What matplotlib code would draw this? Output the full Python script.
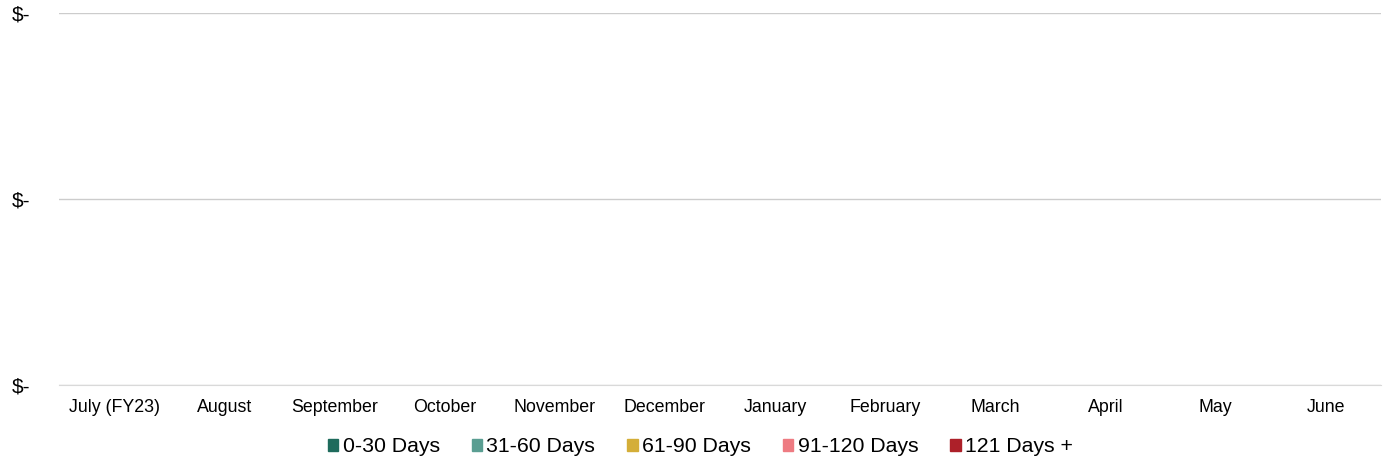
import matplotlib as mpl
import matplotlib.pyplot as plt
import numpy as np

mpl.use('Agg')

plt.rcParams['font.family'] = ['Liberation Sans', 'DejaVu Sans']

months = ['July (FY23)', 'August', 'September', 'October', 'November', 'December',
          'January', 'February', 'March', 'April', 'May', 'June']
buckets = ['0-30 Days', '31-60 Days', '61-90 Days', '91-120 Days', '121 Days +']
colors = ['#1e6b5c', '#5a9e92', '#d4ae38', '#ee7b82', '#ad2029']

days_0_30 = [0, 0, 0, 0, 0, 0, 0, 0, 0, 0, 0, 0]
days_31_60 = [0, 0, 0, 0, 0, 0, 0, 0, 0, 0, 0, 0]
days_61_90 = [0, 0, 0, 0, 0, 0, 0, 0, 0, 0, 0, 0]
days_91_120 = [0, 0, 0, 0, 0, 0, 0, 0, 0, 0, 0, 0]
days_121_plus = [0, 0, 0, 0, 0, 0, 0, 0, 0, 0, 0, 0]
series = [days_0_30, days_31_60, days_61_90, days_91_120, days_121_plus]

fig, ax = plt.subplots(figsize=(13.84, 4.62), dpi=100)
fig.subplots_adjust(left=59 / 1384, right=1381 / 1384, top=1 - 13 / 462, bottom=1 - 385 / 462)

x = np.arange(len(months))
bottom = np.zeros(len(months))
for name, vals, c in zip(buckets, series, colors):
    ax.bar(x, vals, bottom=bottom, width=0.5, color=c, label=name)
    bottom += np.array(vals)

ax.set_xlim(-0.5, len(months) - 0.5)
ax.set_ylim(0, 2)
ax.set_yticks([0, 1, 2])
ax.set_yticklabels(['$-'] * 3, fontsize=15)
ax.set_xticks(x)
ax.set_xticklabels(months, fontsize=12.8)
ax.tick_params(axis='y', length=0, pad=21)
ax.tick_params(axis='x', length=0, pad=10)
ax.yaxis.grid(True, color='#cccccc', linewidth=1)
ax.set_axisbelow(True)
for s in ['top', 'right', 'left']:
    ax.spines[s].set_visible(False)
ax.spines['bottom'].set_color('#d9d9d9')

handles = [mpl.patches.Patch(color=c) for c in colors]
fig.legend(handles, buckets, loc='center', bbox_to_anchor=(0.506, 1 - 447 / 462), ncol=5,
           frameon=False, fontsize=15.3, handlelength=0.5, handleheight=0.5,
           handletextpad=0.2, columnspacing=1.5)

fig.savefig('out.png', dpi=100)
